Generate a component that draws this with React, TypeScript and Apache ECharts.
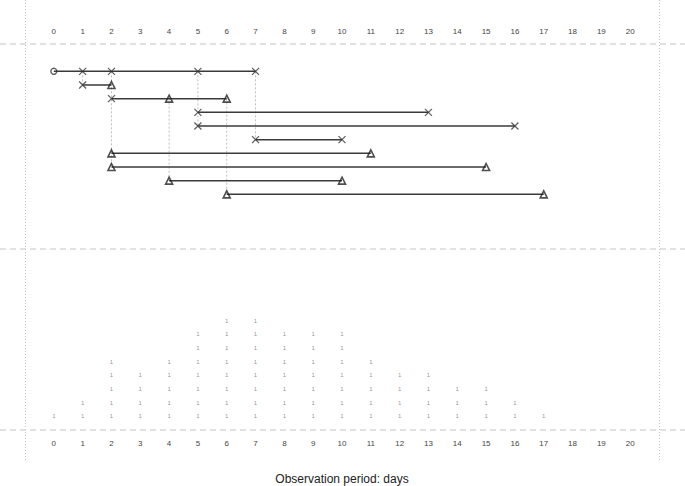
import React, { useEffect, useRef } from "react";
import * as echarts from "echarts";

// Observation period axis
const dayMin = -1;
const dayMax = 21;
const tickDays = [0,1,2,3,4,5,6,7,8,9,10,11,12,13,14,15,16,17,18,19,20];

// Intervals (row number 1..10)
const rowStart = [0, 1, 2, 5, 5, 7, 2, 2, 4, 6];
const rowEnd = [7, 2, 6, 13, 16, 10, 11, 15, 10, 17];

// Event marks: [day, row]
const circleMarks = [[0, 1]];
const crossMarks = [
  [1, 1], [2, 1], [5, 1], [7, 1],
  [1, 2], [2, 3],
  [5, 4], [13, 4],
  [5, 5], [16, 5],
  [7, 6], [10, 6],
];
const triangleMarks = [
  [2, 2], [4, 3], [6, 3],
  [2, 7], [11, 7],
  [2, 8], [15, 8],
  [4, 9], [10, 9],
  [6, 10], [17, 10],
];

// Links: [day, fromRow, toRow]
const links = [
  [1, 1, 2], [2, 1, 8], [4, 3, 9], [5, 1, 5], [6, 3, 10], [7, 1, 6],
];

// Daily counts (stacked "1" marks)
const countDays = [0,1,2,3,4,5,6,7,8,9,10,11,12,13,14,15,16,17];
const countValues = [1,2,5,4,5,7,8,8,7,7,7,5,4,4,3,3,2,1];

const FONT = "Liberation Sans, Arial, sans-serif";

export default function App() {
  const ref = useRef<HTMLDivElement>(null);
  useEffect(() => {
    if (!ref.current) return;
    const chart = echarts.init(ref.current, undefined, { renderer: "svg" });

    const crossPath = "path://M0,0 L10,10 M10,0 L0,10";

    const series: any[] = [];
    rowStart.forEach((s, i) => {
      series.push({
        type: "line",
        xAxisIndex: 0,
        yAxisIndex: 0,
        data: [[s, i + 1], [rowEnd[i], i + 1]],
        symbol: "none",
        lineStyle: { color: "#3a3a3a", width: 1.5 },
        silent: true,
        z: 3,
      });
    });
    links.forEach((l) => {
      series.push({
        type: "line",
        xAxisIndex: 0,
        yAxisIndex: 0,
        data: [[l[0], l[1]], [l[0], l[2]]],
        symbol: "none",
        lineStyle: { color: "#bdbdbd", width: 1, type: [2, 2] },
        silent: true,
        z: 2,
      });
    });
    series.push({
      type: "scatter",
      xAxisIndex: 0,
      yAxisIndex: 0,
      data: crossMarks,
      symbol: crossPath,
      symbolSize: 7,
      itemStyle: { color: "rgba(0,0,0,0)", borderColor: "#333", borderWidth: 1.2 },
      z: 5,
    });
    series.push({
      type: "scatter",
      xAxisIndex: 0,
      yAxisIndex: 0,
      data: triangleMarks,
      symbol: "triangle",
      symbolSize: 7,
      itemStyle: { color: "rgba(0,0,0,0)", borderColor: "#222", borderWidth: 1.6 },
      z: 5,
    });
    series.push({
      type: "scatter",
      xAxisIndex: 0,
      yAxisIndex: 0,
      data: circleMarks,
      symbol: "circle",
      symbolSize: 6,
      itemStyle: { color: "rgba(0,0,0,0)", borderColor: "#333", borderWidth: 1.4 },
      z: 5,
    });
    const countPts: number[][] = [];
    countDays.forEach((d, i) => {
      for (let k = 1; k <= countValues[i]; k++) countPts.push([d, k]);
    });
    series.push({
      type: "scatter",
      xAxisIndex: 1,
      yAxisIndex: 1,
      data: countPts,
      symbolSize: 1,
      itemStyle: { color: "rgba(0,0,0,0)" },
      label: {
        show: true,
        position: "inside",
        formatter: () => "1",
        fontSize: 6,
        color: "#777",
        fontFamily: FONT,
      },
    });

    const axisLabelFmt = (v: number) => (v >= 0 && v <= 20 ? String(v) : "");
    const xCommon = {
      type: "value",
      min: dayMin,
      max: dayMax,
      interval: 1,
      axisLine: { show: false },
      axisTick: { show: false },
      splitLine: { show: false },
    };

    const frame = "#c4c4c4";
    chart.setOption({
      animation: false,
      grid: [
        { left: 25, right: 26, top: 44, height: 205 },
        { left: 25, right: 26, top: 249, height: 181 },
      ],
      xAxis: [
        {
          ...xCommon,
          gridIndex: 0,
          position: "top",
          axisLabel: { formatter: axisLabelFmt, fontSize: 8, color: "#444", margin: 9, fontFamily: FONT },
        },
        {
          ...xCommon,
          gridIndex: 1,
          position: "bottom",
          axisLabel: { formatter: axisLabelFmt, fontSize: 8, color: "#444", margin: 9, fontFamily: FONT },
        },
      ],
      yAxis: [
        { type: "value", gridIndex: 0, min: -1, max: 14, inverse: true, show: false },
        { type: "value", gridIndex: 1, min: 0, max: 13.25, show: false },
      ],
      series,
      graphic: [
        { type: "line", shape: { x1: 0, y1: 44, x2: 685, y2: 44 }, style: { stroke: frame, lineWidth: 1, lineDash: [6, 4] }, silent: true },
        { type: "line", shape: { x1: 0, y1: 249, x2: 685, y2: 249 }, style: { stroke: frame, lineWidth: 1, lineDash: [6, 4] }, silent: true },
        { type: "line", shape: { x1: 0, y1: 430, x2: 685, y2: 430 }, style: { stroke: frame, lineWidth: 1, lineDash: [6, 4] }, silent: true },
        { type: "line", shape: { x1: 25.5, y1: 0, x2: 25.5, y2: 460 }, style: { stroke: frame, lineWidth: 1, lineDash: [1, 2] }, silent: true },
        { type: "line", shape: { x1: 659.5, y1: 0, x2: 659.5, y2: 460 }, style: { stroke: frame, lineWidth: 1, lineDash: [1, 2] }, silent: true },
        {
          type: "text",
          x: 342,
          y: 479,
          style: {
            text: "Observation period: days",
            fontSize: 12,
            fill: "#222",
            fontFamily: FONT,
            align: "center",
            verticalAlign: "middle",
          },
        },
      ],
    });
    return () => chart.dispose();
  }, []);
  return (
    <div
      ref={ref}
      style={{ position: "fixed", left: 0, top: 0, width: 685, height: 486, background: "#fff" }}
    />
  );
}
